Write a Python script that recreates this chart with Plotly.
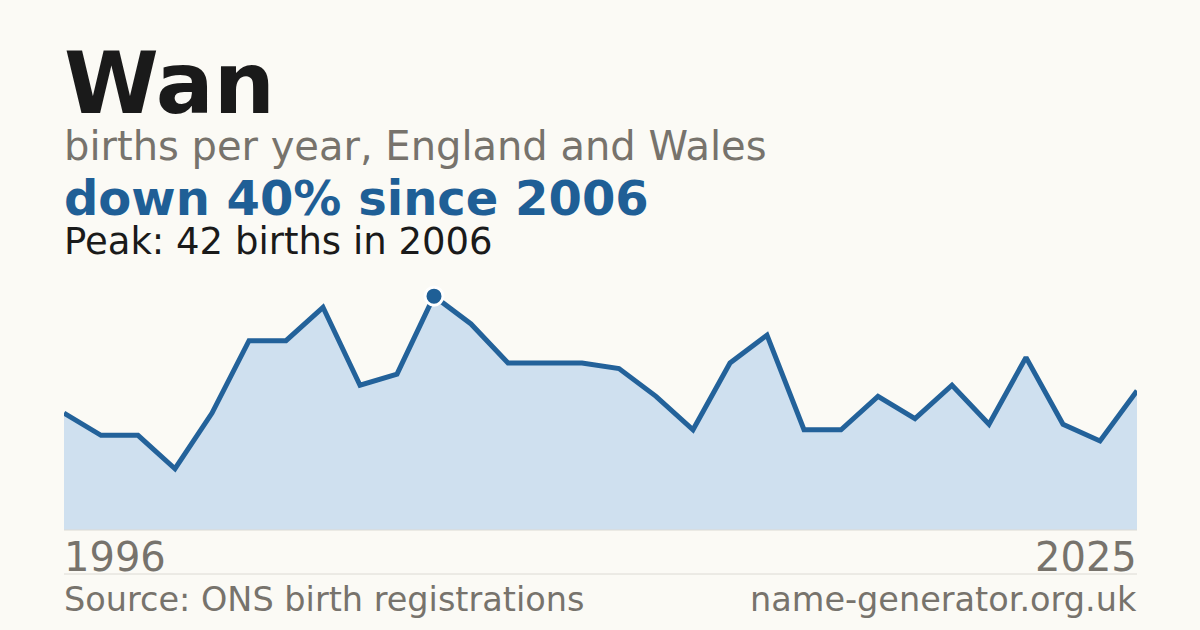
import plotly.graph_objects as go

# births per year for the name "Wan", England and Wales
years = list(range(1996, 2026))
births = [21, 17, 17, 11, 21, 34, 34, 40, 26, 28,
          42, 37, 30, 30, 30, 29, 24, 18, 30, 35,
          18, 18, 24, 20, 26, 19, 31, 19, 16, 25]

title = "Wan"
subtitle = "births per year, England and Wales"
headline = "down 40% since 2006"
peak_text = "Peak: 42 births in 2006"
source = "Source: ONS birth registrations"
site = "name-generator.org.uk"

BG = "#fbfaf5"
BLUE = "#1f5f96"
GREY = "#77736c"
FONT = "DejaVu Sans"

W, H = 1200, 630
L, R, T, B = 64, 63, 280, 100
plot_h = H - T - B


def py(y_px):
    # pixel row -> paper y
    return (H - B - y_px) / plot_h


peak_i = births.index(max(births))

fig = go.Figure()
fig.add_trace(go.Scatter(
    x=years, y=births, mode="lines", fill="tozeroy",
    fillcolor="#cfe0ef",
    line=dict(color="#23629a", width=5),
    hoverinfo="skip",
))
fig.add_trace(go.Scatter(
    x=[years[peak_i]], y=[births[peak_i]], mode="markers",
    marker=dict(size=18, color=BLUE, line=dict(color="white", width=3)),
    hoverinfo="skip",
))

# baseline and footer rule
fig.add_shape(type="line", xref="paper", yref="paper", x0=0, x1=1, y0=0, y1=0,
              line=dict(color="#dcdad4", width=1))
fig.add_shape(type="line", xref="paper", yref="paper", x0=0, x1=1,
              y0=py(574), y1=py(574), line=dict(color="#dcdad4", width=1))


def label(text, y_px, size, color, bold=False, x=0, anchor="left"):
    fig.add_annotation(
        text=f"<b>{text}</b>" if bold else text,
        xref="paper", yref="paper", x=x, y=py(y_px),
        xanchor=anchor, yanchor="middle", showarrow=False,
        xshift=-2 if anchor == "left" else 2,
        font=dict(family=FONT, size=size, color=color),
    )


label(title, 83, 86, "#1a1a1a", bold=True)
label(subtitle, 145.5, 40, GREY)
label(headline, 198, 48, BLUE, bold=True)
label(peak_text, 241.5, 37, "#1a1a1a")
label(str(years[0]), 556.5, 40, GREY)
label(str(years[-1]), 556.5, 40, GREY, x=1, anchor="right")
label(source, 599, 33.5, GREY)
label(site, 599, 33.5, GREY, x=1, anchor="right")

fig.update_layout(
    width=W, height=H,
    margin=dict(l=L, r=R, t=T, b=B),
    paper_bgcolor=BG, plot_bgcolor=BG,
    showlegend=False,
    xaxis=dict(range=[years[0], years[-1]], visible=False, fixedrange=True),
    yaxis=dict(range=[0, 44.9], visible=False, fixedrange=True),
)

fig.write_html("out.html", config={"displayModeBar": False},
               post_script="document.body.style.margin='0';")
